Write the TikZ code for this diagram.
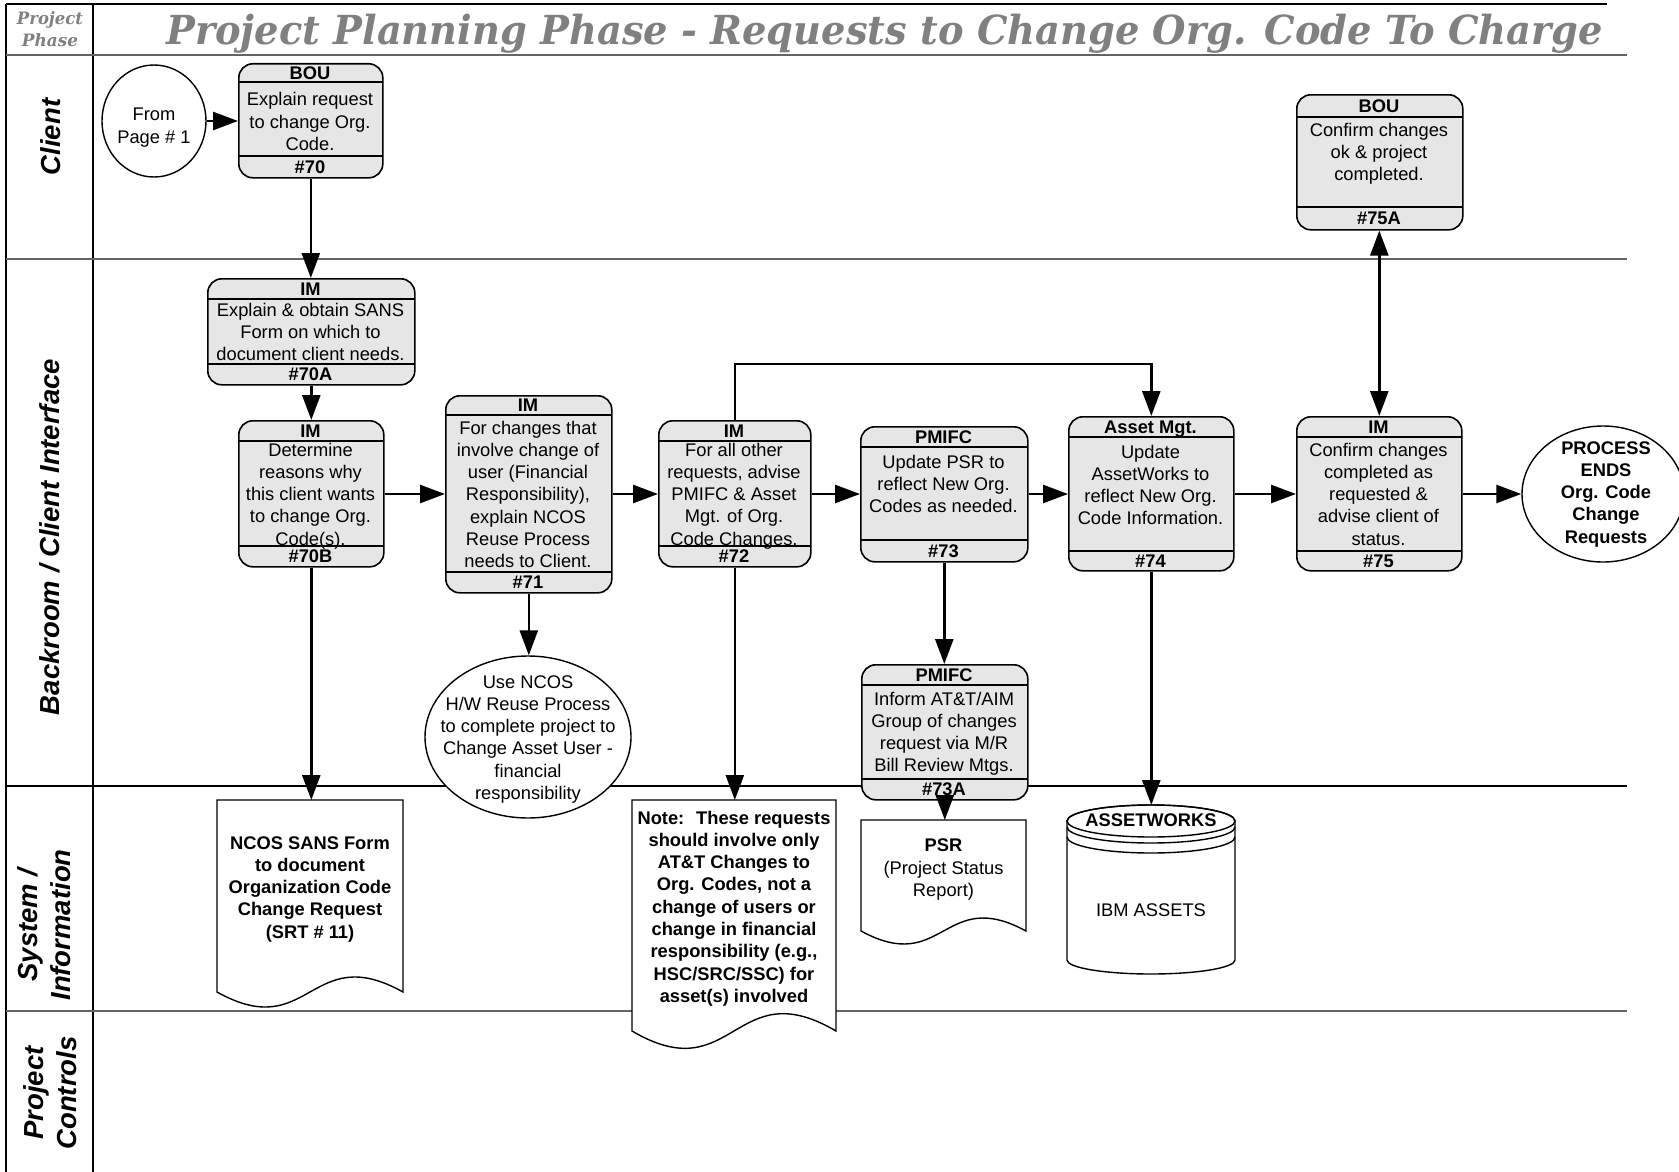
\documentclass[tikz,border=0pt]{standalone}
\usepackage{fontspec}
\usepackage{graphicx}
\setmainfont{Liberation Sans}
\newfontfamily\titlefont{DejaVu Serif}
\usetikzlibrary{arrows.meta,shapes.geometric}
\definecolor{boxfill}{RGB}{230,230,230}
\definecolor{titlegray}{RGB}{128,128,128}
\definecolor{lanegray}{RGB}{100,100,100}
\newcommand\mylines[1]{\parbox[t]{240pt}{\centering #1}}
\tikzset{
  pbox/.style={draw, line width=1.6pt, rounded corners=14pt, fill=boxfill, inner sep=0pt},
  divline/.style={line width=1.3pt},
  shapeline/.style={draw, line width=1.4pt, fill=white},
  txt/.style={inner sep=0pt, font=\fontsize{18.3}{22.3}\selectfont},
  btxt/.style={inner sep=0pt, font=\fontsize{18.3}{22.3}\selectfont\bfseries},
  arr/.style={line width=2.6pt, -{Triangle[length=25pt,width=18pt]}},
  darr/.style={line width=2.6pt, {Triangle[length=25pt,width=18pt]}-{Triangle[length=25pt,width=18pt]}},
  rowlab/.style={rotate=90, inner sep=0pt, align=center, font=\fontsize{27.5}{33}\selectfont\bfseries\itshape},
  ttl/.style={inner sep=0pt, text=titlegray},
}
\newcommand\procbox[9]{%
  \node[pbox, minimum width={#4-#2}, minimum height={#5-#3}, anchor=north west] (n#1) at (#2,#3) {};
  \draw[divline] (#2,#6) -- (#4,#6);
  \draw[divline] (#2,#7) -- (#4,#7);
  \node[btxt, anchor=base] (h#1) at ({(#2+#4)/2},{(#3+#6)/2+6.5}) {#9};
  \node[txt, anchor=base] (t#1) at ({(#2+#4)/2},#8) {\mylines{\bt}};
  \node[btxt, anchor=base] (f#1) at ({(#2+#4)/2},{(#7+#5)/2+6.5}) {\##1};
}
\begin{document}
\begin{tikzpicture}[x=1pt,y=-1pt]
\useasboundingbox (0,0) rectangle (1679,1172);
\fill[white] (0,0) rectangle (1679,1172);

% ---------- lanes ----------
\draw[line width=1.3pt] (6,4) -- (6,1172);
\draw[line width=1.3pt] (93,4) -- (93,1172);
\draw[line width=1.3pt] (6,4) -- (1607,4);
\draw[line width=2pt, lanegray] (6,55) -- (1627,55);
\draw[line width=2pt, lanegray] (6,259) -- (1627,259);
\draw[line width=1.2pt] (6,786) -- (1627,786);
\draw[line width=2.2pt, lanegray] (6,1011) -- (1627,1011);

% ---------- titles ----------
\node[ttl, anchor=base] (pp1) at (50,25) {\resizebox{66pt}{\height}{\titlefont\bfseries\itshape\fontsize{17}{18}\selectfont Project}};
\node[ttl, anchor=base] (pp2) at (50,47) {\resizebox{56pt}{\height}{\titlefont\bfseries\itshape\fontsize{17}{18}\selectfont Phase}};
\node[ttl, anchor=base west] (title) at (166,45) {\resizebox{1437pt}{\height}{\titlefont\bfseries\itshape\fontsize{40}{42}\selectfont Project Planning Phase - Requests to Change Org. Code To Charge}};

\node[rowlab] (lclient) at (51,137) {Client};
\node[rowlab] (lback) at (50,537) {Backroom / Client Interface};
\node[rowlab] (lsys) at (44,925) {System /\\Information};
\node[rowlab] (lpc) at (50,1093) {Project\\Controls};

% ---------- process boxes ----------
\def\bt{Explain request\\to change Org.\\Code.}
\procbox{70}{238}{63}{382}{177}{82}{156}{106}{BOU}
\def\bt{Confirm changes\\ok \& project\\completed.}
\procbox{75A}{1296}{94}{1462}{229}{117}{207}{136}{BOU}
\def\bt{Explain \& obtain SANS\\Form on which to\\document client needs.}
\procbox{70A}{207}{278}{414}{384}{299}{364}{316}{IM}
\def\bt{Determine\\reasons why\\this client wants\\to change Org.\\Code(s).}
\procbox{70B}{238}{420}{383}{566}{441}{546}{456}{IM}
\def\bt{For changes that\\involve change of\\user (Financial\\Responsibility),\\explain NCOS\\Reuse Process\\needs to Client.}
\procbox{71}{445}{395}{611}{592}{415}{572}{434}{IM}
\def\bt{For all other\\requests, advise\\PMIFC \& Asset\\Mgt. of Org.\\Code Changes.}
\procbox{72}{658}{420}{810}{566}{441}{546}{456}{IM}
\def\bt{Update PSR to\\reflect New Org.\\Codes as needed.}
\procbox{73}{860}{426}{1027}{561}{447}{540}{468}{PMIFC}
\def\bt{Update\\AssetWorks to\\reflect New Org.\\Code Information.}
\procbox{74}{1068}{416}{1233}{570}{437}{551}{458}{Asset Mgt.}
\def\bt{Confirm changes\\completed as\\requested \&\\advise client of\\status.}
\procbox{75}{1296}{416}{1461}{570}{437}{551}{456}{IM}
\def\bt{Inform AT\&T/AIM\\Group of changes\\request via M/R\\Bill Review Mtgs.}
\procbox{73A}{861}{664}{1027}{799}{685}{779}{705}{PMIFC}

% ---------- circles ----------
\node[shapeline, ellipse, inner sep=0pt, minimum width=104, minimum height=112] (from) at (154,121) {};
\node[txt, anchor=base] (fromt) at (154,121) {\mylines{From\\Page \# 1}};

\node[shapeline, ellipse, inner sep=0pt, minimum width=206, minimum height=162] (ncos) at (528,737) {};
\node[txt, anchor=base] (ncost) at (528,688) {\mylines{Use NCOS\\H/W Reuse Process\\to complete project to\\Change Asset User -\\financial\\responsibility}};

\node[shapeline, ellipse, inner sep=0pt, minimum width=162, minimum height=136] (endp) at (1603,494) {};
\node[btxt, anchor=base] (endt) at (1606,454) {\mylines{PROCESS\\ENDS\\Org. Code\\Change\\Requests}};

% ---------- documents ----------
\draw[shapeline] (217,800) -- (403,800) -- (403,992) .. controls (310,940) and (310,1044) .. (217,992) -- cycle;
\node[inner sep=0pt, minimum width=186, minimum height=192, anchor=north] (docA) at (310,800) {};
\node[btxt, anchor=base] (docAt) at (310,849) {\mylines{NCOS SANS Form\\to document\\Organization Code\\Change Request\\(SRT \# 11)}};

\draw[shapeline] (632,800) -- (836,800) -- (836,1031) .. controls (734,971) and (734,1091) .. (632,1031) -- cycle;
\node[inner sep=0pt, minimum width=204, minimum height=231, anchor=north] (docB) at (734,800) {};
\node[btxt, anchor=base] (docBt) at (734,824) {\mylines{Note:~ These requests\\should involve only\\AT\&T Changes to\\Org. Codes, not a\\change of users or\\change in financial\\responsibility (e.g.,\\HSC/SRC/SSC) for\\asset(s) involved}};

\draw[shapeline] (861,820) -- (1026,820) -- (1026,931) .. controls (943.5,886) and (943.5,976) .. (861,931) -- cycle;
\node[inner sep=0pt, minimum width=165, minimum height=111, anchor=north] (docC) at (943.5,820) {};
\node[btxt, anchor=base] (docCt) at (943.5,851) {PSR};
\node[txt, anchor=base] (docCt2) at (943.5,874) {\mylines{(Project Status\\Report)}};

% ---------- data store ----------
\draw[shapeline] (1067,821) -- (1067,960) arc[start angle=180,end angle=360,x radius=84pt,y radius=14pt] -- (1235,821) arc[start angle=0,end angle=180,x radius=84pt,y radius=16pt] -- cycle;
\draw[line width=1.4pt] (1151,821) ellipse [x radius=84pt, y radius=16pt];
\draw[line width=1.4pt] (1067,827) arc[start angle=180,end angle=360,x radius=84pt,y radius=16pt];
\draw[line width=1.4pt] (1067,837) arc[start angle=180,end angle=360,x radius=84pt,y radius=16pt];
\node[inner sep=0pt, minimum width=168, minimum height=170, anchor=north] (cyl) at (1151,805) {};
\node[btxt, anchor=base] (cylt) at (1151,826.5) {ASSETWORKS};
\node[txt, anchor=base] (cylt2) at (1151,916.5) {IBM ASSETS};

% ---------- connectors ----------
\coordinate (row) at (0,494);
\draw[arr] (from.east) -- (from.east -| n70.west);
\draw[arr] (n70.south) -- (n70.south |- n70A.north);
\draw[arr] (n70A.south) -- (n70A.south |- n70B.north);
\draw[arr] (n70B.south) -- (n70B.south |- docA.north);
\draw[arr] (n70B.east |- row) -- (n71.west |- row);
\draw[arr] (n71.east |- row) -- (n72.west |- row);
\draw[arr] (n71.south) -- (n71.south |- ncos.north);
\draw[arr] (n72.east |- row) -- (n73.west |- row);
\draw[arr] (n72.south) -- (n72.south |- docB.north);
\draw[arr] (n72.north) -- ++(0,-56) -| (n74.north);
\draw[arr] (n73.east |- row) -- (n74.west |- row);
\draw[arr] (n73.south) -- (n73.south |- n73A.north);
\draw[arr] (n73A.south) ++(0,-3) -- (n73A.south |- docC.north);
\draw[arr] (n74.east |- row) -- (n75.west |- row);
\draw[arr] (n74.south) -- (n74.south |- cyl.north);
\draw[arr] (n75.east |- row) -- (endp.west |- row);
\draw[darr] (n75.north) -- (n75.north |- n75A.south);
\end{tikzpicture}
\end{document}
